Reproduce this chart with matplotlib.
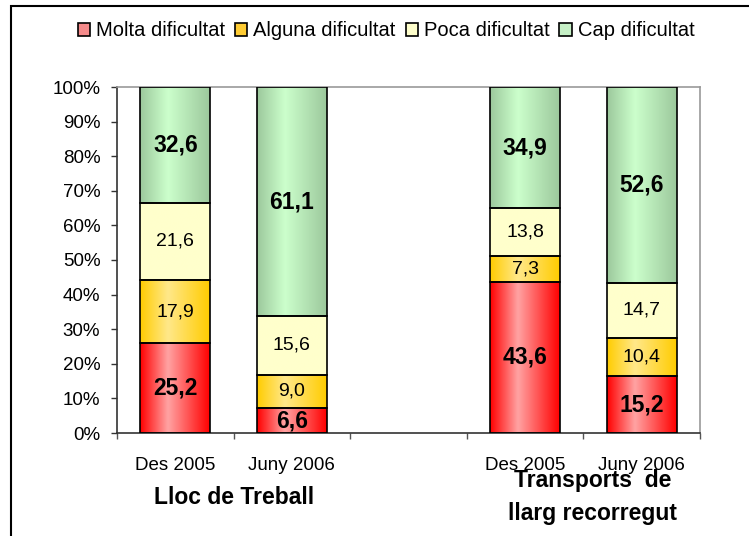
import numpy as np
import matplotlib
matplotlib.use("Agg")
import matplotlib.pyplot as plt
from matplotlib.colors import LinearSegmentedColormap
from matplotlib.patches import Patch, Rectangle
from matplotlib.transforms import blended_transform_factory

plt.rcParams['font.family'] = ['Liberation Sans', 'DejaVu Sans']

# data (raw values, shown as 100% stacked)
periods = ["Des 2005", "Juny 2006", "", "Des 2005", "Juny 2006"]
series_names = ["Molta dificultat", "Alguna dificultat", "Poca dificultat", "Cap dificultat"]
molta = [25.2, 6.6, np.nan, 43.6, 15.2]
alguna = [17.9, 9.0, np.nan, 7.3, 10.4]
poca = [21.6, 15.6, np.nan, 13.8, 14.7]
cap = [32.6, 61.1, np.nan, 34.9, 52.6]
group_labels = ["Lloc de Treball", "Transports  de\nllarg recorregut"]
group_pos = [0.5, 3.58]

# styles
edge_cols = ['#FF0000', '#FFCC00', '#FFFFCC', '#9CC89C']
light_cols = ['#FFA3A3', '#FFE88A', '#FFFFCC', '#CCFFCC']
legend_cols = ['#F58A8A', '#FFCC33', '#FFFFCC', '#C6F0C6']
bold_series = [True, False, False, True]

fig = plt.figure(figsize=(7.49, 5.36), dpi=100)
ax = fig.add_axes([117/749, 1-433/536, (700-117)/749, (433-87)/536])

raw = np.array([molta, alguna, poca, cap])
totals = np.nansum(raw, axis=0)
pct = np.where(totals > 0, raw / np.where(totals > 0, totals, 1) * 100, np.nan)

x = np.arange(len(periods))
bottom = np.zeros(len(periods))
grad = np.linspace(0, 1, 256).reshape(1, -1)
for i, name in enumerate(series_names):
    vals = np.nan_to_num(pct[i])
    bars = ax.bar(x, vals, 0.6, bottom=bottom, facecolor='none',
                  edgecolor='black', linewidth=1.2, zorder=3)
    cmap = LinearSegmentedColormap.from_list(
        name, [(0, edge_cols[i]), (0.4, light_cols[i]), (1, edge_cols[i])])
    for j, b in enumerate(bars):
        if np.isnan(raw[i, j]):
            b.set_visible(False)
            continue
        bx, by, bw, bh = b.get_x(), b.get_y(), b.get_width(), b.get_height()
        ax.imshow(grad, cmap=cmap, extent=[bx, bx + bw, by, by + bh],
                  aspect='auto', interpolation='bicubic', zorder=2)
        txt = f"{raw[i, j]:.1f}".replace('.', ',')
        ax.text(bx + bw / 2, by + bh / 2, txt, ha='center', va='center',
                fontsize=16.5 if bold_series[i] else 14,
                fontweight='bold' if bold_series[i] else 'normal', zorder=4)
    bottom += vals

ax.set_xlim(-0.5, len(periods) - 0.5)
ax.set_ylim(0, 100)
ax.set_yticks(np.arange(0, 101, 10))
ax.set_yticklabels([f"{v}%" for v in range(0, 101, 10)], fontsize=13.5)
ax.tick_params(axis='y', direction='out', length=4, width=1, pad=8, color='#333333')
ax.set_xticks(x)
ax.set_xticklabels(periods, fontsize=13.5)
ax.tick_params(axis='x', which='major', length=0, pad=17)
ax.set_xticks(np.arange(-0.5, len(periods)), minor=True)
ax.tick_params(axis='x', which='minor', direction='out', length=4, width=1, color='#555555')

for s in ['left', 'bottom']:
    ax.spines[s].set_color('#333333')
    ax.spines[s].set_linewidth(1.2)
for s in ['top', 'right']:
    ax.spines[s].set_color('#999999')
    ax.spines[s].set_linewidth(1.2)

trans = blended_transform_factory(ax.transData, fig.transFigure)
ax.text(group_pos[0], 1 - 498/536, group_labels[0], transform=trans,
        ha='center', va='center', fontsize=16.5, fontweight='bold')
ax.text(group_pos[1], 1 - 497/536, group_labels[1], transform=trans,
        ha='center', va='center', fontsize=16.5, fontweight='bold', linespacing=1.6)

handles = [Patch(facecolor=c, edgecolor='black', linewidth=1.2) for c in legend_cols]
fig.legend(handles, series_names, loc='center', bbox_to_anchor=(386/749, 1 - 31/536),
           ncol=4, frameon=False, fontsize=14.5, handlelength=0.6, handleheight=0.6,
           handletextpad=0.3, columnspacing=0.5)

# outer chart frame (cut off at right and bottom)
fig.patches.append(Rectangle((11/749, -0.05), 1.2, 1.05 - 6/536, transform=fig.transFigure,
                             fill=False, edgecolor='black', linewidth=1.5))

fig.savefig("out.png", dpi=100)
